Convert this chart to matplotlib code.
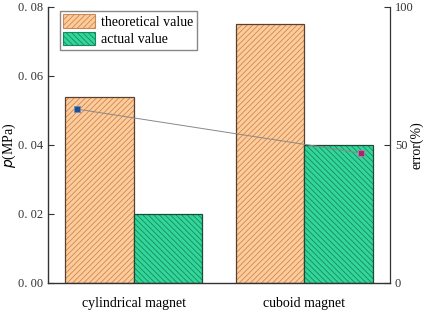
import matplotlib
matplotlib.use('Agg')
import matplotlib.pyplot as plt
import matplotlib.ticker as mticker
import numpy as np

categories = ['cylindrical magnet', 'cuboid magnet']
theoretical = [0.054, 0.075]
actual = [0.020, 0.040]
error_pct = [63.0, 47.0]

ORANGE = '#ffcc99'
GREEN = '#33d69a'

plt.rcParams['font.family'] = ['Liberation Serif', 'DejaVu Serif']
plt.rcParams['hatch.linewidth'] = 0.6

fig = plt.figure(figsize=(4.29, 3.12), dpi=100)
ax = fig.add_axes([0.112, 0.093, 0.797, 0.885])

x = np.arange(len(categories))
width = 0.4

plt.rcParams['hatch.color'] = '#c8885a'
ax.bar(x - width / 2, theoretical, width, color=ORANGE, edgecolor='#c8885a',
       hatch='//////', linewidth=0, label='theoretical value')
ax.bar(x - width / 2, theoretical, width, color='none', edgecolor='#5a4030', linewidth=0.9)
ax.bar(x + width / 2, actual, width, color=GREEN, edgecolor='#178a5c',
       hatch='\\\\\\\\\\\\', linewidth=0, label='actual value')
ax.bar(x + width / 2, actual, width, color='none', edgecolor='#1e4a38', linewidth=0.9)

ax.set_xlim(-0.5, 1.5)
ax.set_ylim(0, 0.08)
ax.set_yticks([0, 0.02, 0.04, 0.06, 0.08])
ax.yaxis.set_major_formatter(mticker.FuncFormatter(
    lambda v, p: ('%.2f' % v).replace('.', '. ')))
ax.set_xticks(x)
ax.set_xticklabels(categories, fontsize=10)
ax.tick_params(axis='x', length=0, pad=10)
ax.tick_params(axis='y', direction='in', length=4, labelsize=9, colors='#333333')
ax.set_ylabel(r'$\it{p}$(MPa)', fontsize=10)
ax.yaxis.set_label_coords(-0.088, 0.5)
ax.spines['top'].set_visible(False)
for s in ['left', 'bottom']:
    ax.spines[s].set_linewidth(1.0)
    ax.spines[s].set_color('#333333')

ax2 = ax.twinx()
ax2.set_ylim(0, 100)
ax2.set_yticks([0, 50, 100])
ax2.tick_params(axis='y', direction='in', length=4, labelsize=9, colors='#333333')
ax2.set_ylabel('error(%)', fontsize=10)
ax2.yaxis.set_label_coords(1.06, 0.5)
ax2.spines['top'].set_visible(False)
ax2.spines['right'].set_color('#333333')
ax2.spines['left'].set_visible(False)
ax2.spines['bottom'].set_visible(False)

offsets = np.array([-1 / 3, 1 / 3])
ex = x + offsets
ax2.plot(ex, error_pct, color='#888888', linewidth=0.7, zorder=3)
ax2.scatter(ex[:1], error_pct[:1], marker='s', s=22, color='#1f4f8f',
            edgecolors='#6a8cc0', linewidths=0.6, zorder=4)
ax2.scatter(ex[1:], error_pct[1:], marker='s', s=22, color='#a0286e',
            edgecolors='#d070a0', linewidths=0.6, zorder=4)

leg = ax.legend(loc='upper left', bbox_to_anchor=(0.035, 0.985), fontsize=10,
                fancybox=False, edgecolor='#888888', framealpha=1,
                handlelength=2.3, handleheight=1.1, borderpad=0.25,
                labelspacing=0.2, handletextpad=0.4, borderaxespad=0)
leg.get_frame().set_linewidth(1.0)
for h in leg.legend_handles:
    h.set_linewidth(0.8)

fig.savefig('out.png', dpi=100)
